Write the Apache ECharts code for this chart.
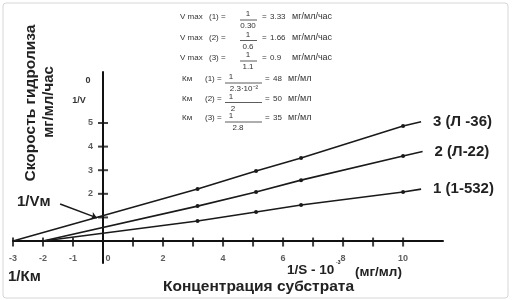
<!DOCTYPE html>
<html>
<head>
<meta charset="utf-8">
<script src="https://cdn.jsdelivr.net/npm/echarts@6/dist/echarts.min.js"></script>
<style>
  html, body { margin: 0; padding: 0; background: #fff; }
  #chart { width: 513px; height: 300px; }
</style>
</head>
<body>
<div id="chart"></div>
<script>
// data
const seriesNames = ["1 (1-532)", "2 (Л-22)", "3 (Л -36)"];
const dotsX = [3.15, 5.1, 6.6, 10];
const line1Y = [0.85, 1.23, 1.53, 2.08];
const line2Y = [1.48, 2.08, 2.58, 3.6];
const line3Y = [2.2, 2.97, 3.52, 4.87];
const startX = [-2, -2, -3];
const endX = [10.6, 10.65, 10.6];
const endY = [2.2, 3.79, 5.05];

const xTicks = [-3, -2, -1, 0, 1, 2, 3, 4, 5, 6, 7, 8, 9, 10];
const xLabelValues = [-3, -2, -1, 0, 2, 4, 6, 8, 10];
const yTicks = [1, 2, 3, 4, 5];
const yTickLabels = ["", "2", "3", "4", "5"];

const vmaxDen = ["0.30", "0.6", "1.1"];
const vmaxVal = ["3.33", "1.66", "0.9"];
const kmDen = ["2.3·10⁻²", "2", "2.8"];
const kmVal = ["48", "50", "35"];

const FONT = "Liberation Sans, Arial, sans-serif";
const INK = "#1a1a1a";

function lineData(i, ys) {
  const pts = [{ value: [startX[i], 0], symbol: "none" }];
  ys.forEach((y, k) => pts.push([dotsX[k], y]));
  pts.push({ value: [endX[i], endY[i]], symbol: "none" });
  return pts;
}

function text(x, y, str, size, extra) {
  return Object.assign({
    type: "text", x: x, y: y, silent: true,
    style: Object.assign({
      text: str, fill: "#222", fontFamily: FONT, fontSize: size,
      fontWeight: "bold", align: "left", verticalAlign: "middle",
    }, (extra && extra.style) || {}),
  }, (extra && extra.el) || {});
}

// formula block (top)
const formula = [];
const small = { style: { fontWeight: "normal", fill: "#333" } };
const smallC = { style: { fontWeight: "normal", fill: "#333", align: "center" } };
const kmDenX = [244, 233, 238];
[17, 37.5, 58].forEach((y, i) => {
  formula.push(text(180, y, "V max", 8, small));
  formula.push(text(209, y, "(" + (i + 1) + ") =", 8, small));
  formula.push(text(248, y - 3, "1", 8, smallC));
  formula.push({ type: "line", silent: true, shape: { x1: 240, y1: y + 3, x2: 257, y2: y + 3 }, style: { stroke: "#333", lineWidth: 0.8 } });
  formula.push(text(248, y + 9, vmaxDen[i], 8, smallC));
  formula.push(text(262, y, "=", 8, small));
  formula.push(text(270, y, vmaxVal[i], 8, small));
  formula.push(text(292, y, "мг/мл/час", 9, small));
});
[79, 98.5, 118].forEach((y, i) => {
  formula.push(text(182, y, "Км", 8, small));
  formula.push(text(205, y, "(" + (i + 1) + ") =", 8, small));
  formula.push(text(231, y - 2, "1", 8, smallC));
  formula.push({ type: "line", silent: true, shape: { x1: 225, y1: y + 4, x2: 262, y2: y + 4 }, style: { stroke: "#333", lineWidth: 0.8 } });
  formula.push(text(kmDenX[i], y + 10, kmDen[i], 8, smallC));
  formula.push(text(265, y, "=", 8, small));
  formula.push(text(273, y, kmVal[i], 8, small));
  formula.push(text(288, y, "мг/мл", 9, small));
});

const labelFont = { fontFamily: FONT, fontSize: 9, fontWeight: "bold", color: "#333" };

const option = {
  backgroundColor: "#fff",
  animation: false,
  grid: { left: 13, right: 70, top: 72, bottom: 37, containLabel: false, outerBoundsMode: "none" },
  xAxis: {
    type: "value",
    min: -3,
    max: 11.33,
    splitLine: { show: false },
    axisTick: { show: false },
    axisLabel: { show: false },
    axisLine: { show: true, onZero: true, lineStyle: { color: "#111", width: 2 } },
  },
  yAxis: {
    type: "value",
    min: -0.93,
    max: 7.16,
    splitLine: { show: false },
    axisTick: { show: false },
    axisLabel: { show: false },
    axisLine: { show: true, onZero: true, lineStyle: { color: "#111", width: 2 } },
  },
  series: [
    ...[line1Y, line2Y, line3Y].map((ys, i) => ({
      name: seriesNames[i],
      type: "line",
      data: lineData(i, ys),
      symbol: "circle",
      symbolSize: 4,
      showSymbol: true,
      itemStyle: { color: INK },
      lineStyle: { color: INK, width: 1.6 },
      silent: true,
      z: 4,
      endLabel: {
        show: true,
        formatter: "{a}",
        distance: 12,
        fontFamily: FONT,
        fontSize: 15,
        fontWeight: "bold",
        color: "#222",
      },
      markLine: i === 2 ? {
        silent: true,
        symbol: ["none", "arrow"],
        symbolSize: 6,
        label: { show: false },
        lineStyle: { color: INK, width: 1.5, type: "solid" },
        data: [[{ coord: [-1.43, 1.57] }, { coord: [-0.2, 0.98] }]],
      } : undefined,
    })),
    {
      name: "xTicks",
      type: "scatter",
      silent: true,
      symbol: "rect",
      symbolSize: [2, 9],
      symbolOffset: [0, 1],
      itemStyle: { color: "#111" },
      data: xTicks.map(v => v === 0
        ? { value: [v, 0], symbolSize: 0, label: { offset: [5, 16] } }
        : [v, 0]),
      label: Object.assign({
        show: true,
        position: "inside",
        offset: [0, 16],
        formatter: p => xLabelValues.indexOf(p.value[0]) < 0 ? "" : String(p.value[0]),
      }, labelFont),
      z: 5,
    },
    {
      name: "yTicks",
      type: "scatter",
      silent: true,
      symbol: "rect",
      symbolSize: [10, 2],
      itemStyle: { color: "#111" },
      data: yTicks.map(v => [0, v]),
      label: Object.assign({
        show: true,
        position: "left",
        distance: 5,
        formatter: p => yTickLabels[p.dataIndex],
      }, labelFont),
      z: 5,
    },
  ],
  graphic: [
    { type: "rect", silent: true, shape: { x: 3, y: 3, width: 505, height: 295, r: 3 }, style: { fill: "none", stroke: "#d6d6d6", lineWidth: 1 } },
    text(31, 103, "Скорость гидролиза", 15.5, { el: { rotation: Math.PI / 2 }, style: { align: "center" } }),
    text(49, 102, "мг/мл/час", 15, { el: { rotation: Math.PI / 2 }, style: { align: "center" } }),
    text(88, 81, "0", 9, { style: { align: "center", fill: "#333" } }),
    text(79, 101, "1/V", 9, { style: { align: "center", fill: "#333" } }),
    text(17, 202, "1/Vм", 15),
    text(8, 277, "1/Км", 15),
    text(287, 270, "1/S - 10", 13.5),
    text(336, 263, "-3", 5),
    text(355, 272, "(мг/мл)", 13.5),
    text(163, 287, "Концентрация субстрата", 15.5),
    ...formula,
  ],
};

const myChart = echarts.init(document.getElementById("chart"));
myChart.setOption(option);
</script>
</body>
</html>
